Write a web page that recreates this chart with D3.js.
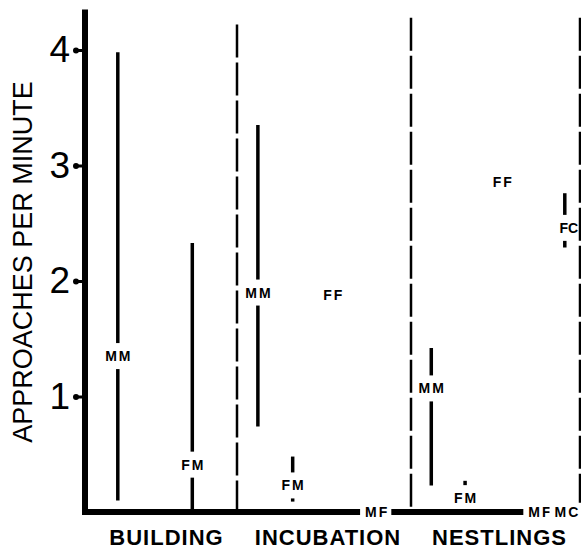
<!DOCTYPE html>
<html>
<head>
<meta charset="utf-8">
<script src="https://cdn.jsdelivr.net/npm/d3@7"></script>
<style>
body { margin: 0; background: #fff; }
text { font-family: "Liberation Sans", Arial, sans-serif; fill: #000; }
</style>
</head>
<body>
<script>

// phases along the bottom
var phases = ["BUILDING", "INCUBATION", "NESTLINGS"];

// pair codes, one entry per mark
var pairs    = ["MM", "FM", "MM", "FM", "FF", "MF", "MM", "FM", "FF", "MF", "MC", "FC"];
var phaseOf  = [0, 0, 1, 1, 1, 1, 2, 2, 2, 2, 2, 2];
var slot     = [0.20, 0.70, 0.12, 0.32, 0.55, 0.80, 0.12, 0.32, 0.54, 0.76, 0.92, 0.91];
// approaches per minute: mean (label) and range
var mid  = [1.35, 0.41, 1.90, 0.23, 1.88, 0, 1.07, 0.12, 2.86, 0, 0, 2.46];
var low  = [0.10, 0, 0.74, 0.09, null, null, 0.23, 0.05, null, null, null, 2.29];
var high = [3.98, 2.33, 3.35, 0.48, null, null, 1.42, 0.27, null, null, null, 2.76];

var yTicks = [1, 2, 3, 4];

var data = pairs.map(function(p, i) {
    return { pair: p, pos: phaseOf[i] + slot[i], mid: mid[i], low: low[i], high: high[i] };
});

var width = 581, height = 550;

var x = d3.scaleLinear().domain([0, 1, 2, 3]).range([88, 237, 411, 580]);
var y = d3.scaleLinear().domain([0, 4]).range([512, 50]);

var svg = d3.select("body").append("svg")
        .attr("width", width)
        .attr("height", height);

// dashed phase separators
svg.selectAll("line.divider").data([1, 2, 3]).enter()
    .append("line")
        .attr("class", "divider")
        .attr("x1", function(d) { return x(d); })
        .attr("x2", function(d) { return x(d); })
        .attr("y1", function(d) { return d == 1 ? y(4.22) : y(4.28); })
        .attr("y2", function(d) { return d == 3 ? y(0.08) : y(0); })
        .attr("stroke", "#000")
        .attr("stroke-width", 2.5)
        .attr("stroke-dasharray", "33,5");

// range lines
svg.selectAll("line.range").data(data.filter(function(d) { return d.low != null; })).enter()
    .append("line")
        .attr("class", "range")
        .attr("x1", function(d) { return x(d.pos); })
        .attr("x2", function(d) { return x(d.pos); })
        .attr("y1", function(d) { return y(d.high); })
        .attr("y2", function(d) { return y(d.low); })
        .attr("stroke", "#000")
        .attr("stroke-width", 3.5);

// pair labels, with a white patch so lines break around them
function drawTags(rows, padY) {
    var tags = svg.selectAll(null).data(rows).enter()
        .append("g")
            .attr("transform", function(d) {
                var shift = d.pair == "FC" ? 4 : 0;
                return "translate(" + (x(d.pos) + shift) + "," + y(d.mid) + ")";
            });

    tags.append("text")
            .attr("text-anchor", "middle")
            .attr("dy", "0.36em")
            .attr("dx", function(d) { return d.pair == "FC" ? 0 : 1; })
            .style("font-size", "14px")
            .style("font-weight", "bold")
            .style("letter-spacing", function(d) { return d.pair == "FC" ? "0px" : "2px"; })
            .text(function(d) { return d.pair; });

    tags.each(function(d) {
        var g = d3.select(this);
        var b = g.select("text").node().getBBox();
        var left = b.x - 5;
        var right = b.x + b.width + 2;
        if (d.pair == "FC") right = Math.min(right, x(3) - 2 - (x(d.pos) + 4));  // keep the edge line
        g.insert("rect", "text")
            .attr("x", left)
            .attr("y", -5 - padY)
            .attr("width", right - left)
            .attr("height", 10 + 2 * padY)
            .attr("fill", "#fff");
    });
}

drawTags(data.filter(function(d) { return d.mid > 0; }), 8);

// baseline and y axis line
svg.append("line")
        .attr("x1", x(0) - 6).attr("x2", x(3))
        .attr("y1", y(0)).attr("y2", y(0))
        .attr("stroke", "#000").attr("stroke-width", 6);

svg.append("line")
        .attr("x1", x(0) - 3).attr("x2", x(0) - 3)
        .attr("y1", y(4.35)).attr("y2", y(0) + 3)
        .attr("stroke", "#000").attr("stroke-width", 6);

// zero values sit on the baseline
drawTags(data.filter(function(d) { return d.mid == 0; }), 3);

var yAxis = d3.axisLeft(y)
        .tickValues(yTicks)
        .tickSize(0)
        .tickPadding(15)
        .tickFormat(d3.format("d"));

var gy = svg.append("g")
        .attr("transform", "translate(" + (x(0) - 3) + ",0)")
        .call(yAxis);
gy.select(".domain").remove();
gy.selectAll(".tick text")
        .style("font-size", "37px")
        .style("font-family", "'Liberation Sans', Arial, sans-serif");
gy.selectAll(".tick").append("line")
        .attr("x1", -9).attr("x2", 0)
        .attr("stroke", "#000").attr("stroke-width", 3);
gy.selectAll(".tick").append("circle")
        .attr("cx", -9).attr("r", 3).attr("fill", "#000");

// phase names
svg.selectAll("text.phase").data(phases).enter()
    .append("text")
        .attr("class", "phase")
        .attr("x", function(d, i) { return x(i + 0.5) + 4; })
        .attr("y", 545)
        .attr("text-anchor", "middle")
        .style("font-size", "22px")
        .style("font-weight", "bold")
        .style("letter-spacing", "1px")
        .text(function(d) { return d; });

// y title
svg.append("text")
        .attr("transform", "translate(32," + 262 + ") rotate(-90)")
        .attr("text-anchor", "middle")
        .style("font-size", "27px")
        .text("APPROACHES PER MINUTE");

</script>
</body>
</html>
